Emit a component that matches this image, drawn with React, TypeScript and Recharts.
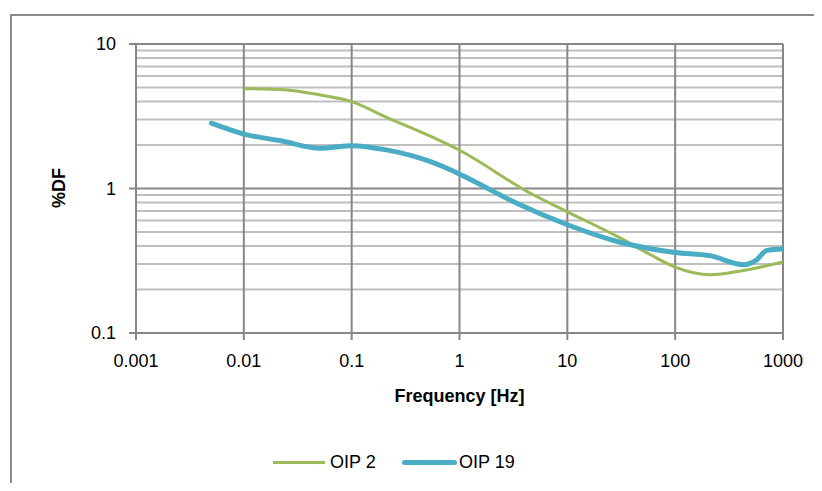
import React from 'react';
import { LineChart, Line, XAxis, YAxis, ReferenceLine, Label } from 'recharts';

const xTicks = [0.001, 0.01, 0.1, 1, 10, 100, 1000];
const yTicks = [0.1, 1, 10];
const yMinor = [0.2, 0.3, 0.4, 0.5, 0.6, 0.7, 0.8, 0.9, 2, 3, 4, 5, 6, 7, 8, 9];

const oip2Freq = [0.01, 0.025, 0.05, 0.1, 0.21, 0.53, 1, 4.5, 10, 29, 59, 100, 210, 430, 1000];
const oip2Df = [4.91, 4.81, 4.45, 3.99, 3.11, 2.31, 1.84, 0.93, 0.69, 0.466, 0.348, 0.286, 0.253, 0.271, 0.31];

const oip19Freq = [0.005, 0.01, 0.022, 0.051, 0.1, 0.21, 0.53, 0.82, 1.25, 3.4, 10, 29, 100, 210, 430, 570, 710, 1000];
const oip19Df = [2.83, 2.38, 2.14, 1.9, 1.98, 1.85, 1.54, 1.35, 1.16, 0.79, 0.561, 0.43, 0.361, 0.343, 0.297, 0.321, 0.373, 0.381];

const seriesNames = ['OIP 2', 'OIP 19'];
const GREEN = '#9BBB59';
const BLUE = '#4BACC6';
const MAJOR = '#878787';
const MINOR = '#bfbfbf';
const FONT = "'Liberation Sans', Arial, sans-serif";
const FS = 18;

const oip2 = oip2Freq.map((f, i) => ({ f, v: oip2Df[i] }));
const oip19 = oip19Freq.map((f, i) => ({ f, v: oip19Df[i] }));

const fmt = (v: number) => String(v);

export default function App() {
  return (
    <div style={{ position: 'relative', width: 822, height: 491, margin: -8, overflow: 'hidden', background: '#fff', fontFamily: FONT }}>
      <div style={{ position: 'absolute', left: 10, top: 14, width: 812, height: 2, background: '#8c8c8c' }} />
      <div style={{ position: 'absolute', left: 10, top: 14, width: 2, height: 477, background: '#8c8c8c' }} />
      <div style={{ position: 'absolute', left: 0, top: 0 }}>
        <LineChart width={822} height={491} data={oip2} margin={{ top: 44, right: 39, bottom: 128, left: 76 }}>
          {yMinor.map((y) => (
            <ReferenceLine key={'m' + y} y={y} stroke={MINOR} strokeWidth={2} ifOverflow="hidden" />
          ))}
          {yTicks.map((y) => (
            <ReferenceLine key={'y' + y} y={y} stroke={MAJOR} strokeWidth={2} />
          ))}
          {xTicks.map((x) => (
            <ReferenceLine key={'x' + x} x={x} stroke={MAJOR} strokeWidth={2} />
          ))}
          <XAxis
            dataKey="f"
            type="number"
            scale="log"
            domain={[0.001, 1000]}
            ticks={xTicks}
            tickFormatter={fmt}
            allowDataOverflow
            height={30}
            stroke={MAJOR}
            axisLine={{ stroke: MAJOR, strokeWidth: 2 }}
            tickLine={{ stroke: MAJOR, strokeWidth: 2 }}
            tickSize={7}
            tickMargin={14}
            tick={{ fill: '#000', fontSize: FS, fontFamily: FONT }}
          >
            <Label value="Frequency [Hz]" position="bottom" offset={26} style={{ fill: '#000', fontSize: FS, fontWeight: 'bold', fontFamily: FONT }} />
          </XAxis>
          <YAxis
            type="number"
            scale="log"
            domain={[0.1, 10]}
            ticks={yTicks}
            tickFormatter={fmt}
            allowDataOverflow
            width={60}
            axisLine={{ stroke: MAJOR, strokeWidth: 2 }}
            tickLine={{ stroke: MAJOR, strokeWidth: 2 }}
            tickSize={7}
            tickMargin={13}
            tick={{ fill: '#000', fontSize: FS, fontFamily: FONT }}
          >
            <Label
              content={() => (
                <text x={59} y={188} transform="rotate(-90 59 188)" textAnchor="middle" dominantBaseline="central" style={{ fill: '#000', fontSize: FS, fontWeight: 'bold', fontFamily: FONT }}>
                  %DF
                </text>
              )}
            />
          </YAxis>
          <Line data={oip2} dataKey="v" name={seriesNames[0]} type="monotone" stroke={GREEN} strokeWidth={3} dot={false} isAnimationActive={false} />
          <Line data={oip19} dataKey="v" name={seriesNames[1]} type="monotone" stroke={BLUE} strokeWidth={5} strokeLinecap="round" dot={false} isAnimationActive={false} />
        </LineChart>
      </div>
      <div style={{ position: 'absolute', left: 273, top: 461, width: 52, height: 3, background: GREEN }} />
      <div style={{ position: 'absolute', left: 330, top: 450, fontSize: FS, lineHeight: '24px', color: '#000' }}>{seriesNames[0]}</div>
      <div style={{ position: 'absolute', left: 402, top: 460, width: 55, height: 5, borderRadius: 3, background: BLUE }} />
      <div style={{ position: 'absolute', left: 459, top: 450, fontSize: FS, lineHeight: '24px', color: '#000' }}>{seriesNames[1]}</div>
    </div>
  );
}
